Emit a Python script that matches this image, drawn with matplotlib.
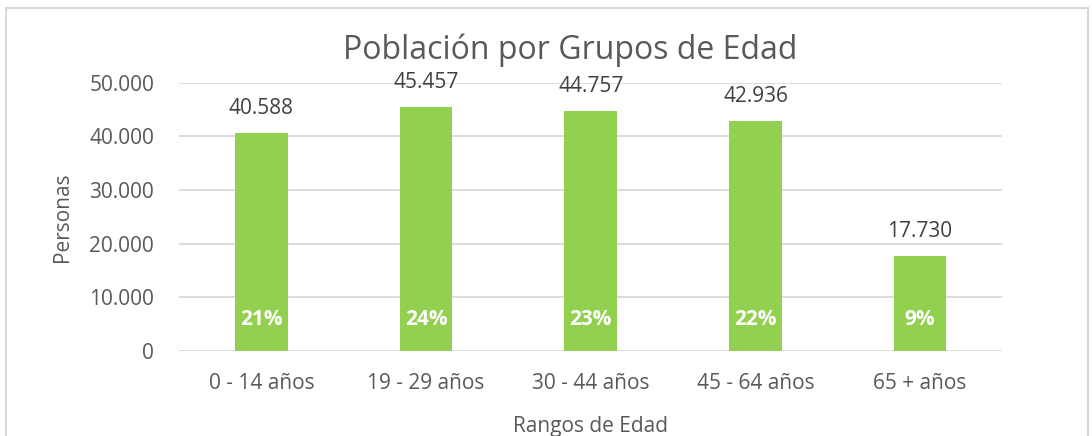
import matplotlib.pyplot as plt
import matplotlib.patches as mpatches
from matplotlib.ticker import FuncFormatter

# datos
grupos = ['0 - 14 años', '19 - 29 años', '30 - 44 años', '45 - 64 años', '65 + años']
personas = [40588, 45457, 44757, 42936, 17730]
porcentajes = ['21%', '24%', '23%', '22%', '9%']

verde = '#92D050'
gris = '#595959'

plt.rcParams['font.family'] = ['Open Sans', 'DejaVu Sans']

fig = plt.figure(figsize=(10.92, 4.36), dpi=100)
ax = fig.add_axes([0.164, 0.195, 0.754, 0.615])

x = range(len(grupos))
ax.bar(x, personas, width=0.32, color=verde, zorder=3)

for i, v in enumerate(personas):
    etiqueta = f'{v:,}'.replace(',', '.')
    ax.annotate(etiqueta, (i, v), xytext=(0, 10), textcoords='offset points',
                ha='center', va='bottom', fontsize=15, color='#404040')
    ax.text(i, 5800, porcentajes[i], ha='center', va='center', fontsize=15,
            color='white', fontweight='bold', zorder=4)

ax.set_xlim(-0.5, len(grupos) - 0.5)
ax.set_ylim(0, 50000)
ax.set_yticks(range(0, 50001, 10000))
ax.yaxis.set_major_formatter(FuncFormatter(lambda v, p: f'{int(v):,}'.replace(',', '.')))
ax.set_xticks(list(x))
ax.set_xticklabels(grupos)
ax.tick_params(axis='both', length=0, labelsize=15, colors=gris)
ax.tick_params(axis='x', pad=16)
ax.tick_params(axis='y', pad=18)

ax.grid(axis='y', color='#D9D9D9', linewidth=1.3, zorder=0)
for s in ax.spines.values():
    s.set_visible(False)

fig.text(0.522, 0.885, 'Población por Grupos de Edad', fontsize=23, color=gris,
         ha='center', va='center')
ax.set_ylabel('Personas', fontsize=15, color=gris, labelpad=12)
ax.set_xlabel('Rangos de Edad', fontsize=15, color=gris, labelpad=16)

# marco del gráfico
fig.patches.append(mpatches.Rectangle((6 / 1092, -0.05), 1082 / 1092, 1.05 - 8 / 436,
                                      transform=fig.transFigure, fill=False,
                                      edgecolor='#D9D9D9', linewidth=1.5))

fig.savefig('out.png', dpi=100)
